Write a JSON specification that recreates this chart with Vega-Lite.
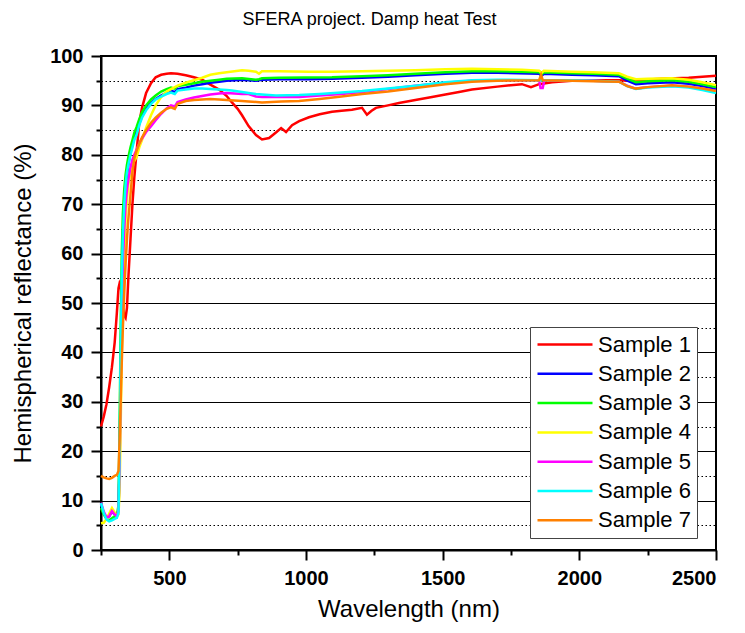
{
"$schema":"https://vega.github.io/schema/vega-lite/v6.json",
"width":615,"height":494,
"autosize":{"type":"none"},
"padding":{"left":101,"top":56,"right":29,"bottom":83},
"title":{"text":"SFERA project. Damp heat Test","fontSize":18,"fontWeight":"normal","font":"Liberation Sans","color":"#000","offset":17,"dx":-39},
"config":{"view":{"stroke":"#000","strokeWidth":2},"font":"Liberation Sans"},
"datasets":{"d":[
{"s":"Sample 1","x":250,"y":25},{"s":"Sample 1","x":260,"y":27},{"s":"Sample 1","x":270,"y":29.5},{"s":"Sample 1","x":280,"y":33},{"s":"Sample 1","x":290,"y":37},{"s":"Sample 1","x":300,"y":42},{"s":"Sample 1","x":308,"y":48},{"s":"Sample 1","x":314,"y":53},{"s":"Sample 1","x":318,"y":54},{"s":"Sample 1","x":322,"y":53.5},{"s":"Sample 1","x":326,"y":51.5},{"s":"Sample 1","x":330,"y":49},{"s":"Sample 1","x":335,"y":47.5},{"s":"Sample 1","x":340,"y":47},{"s":"Sample 1","x":345,"y":49},{"s":"Sample 1","x":350,"y":55},{"s":"Sample 1","x":358,"y":63},{"s":"Sample 1","x":365,"y":70},{"s":"Sample 1","x":372,"y":75.5},{"s":"Sample 1","x":380,"y":80.5},{"s":"Sample 1","x":390,"y":86.5},{"s":"Sample 1","x":400,"y":89.5},{"s":"Sample 1","x":415,"y":92.5},{"s":"Sample 1","x":433,"y":94.5},{"s":"Sample 1","x":450,"y":95.7},{"s":"Sample 1","x":470,"y":96.2},{"s":"Sample 1","x":490,"y":96.4},{"s":"Sample 1","x":506,"y":96.5},{"s":"Sample 1","x":530,"y":96.4},{"s":"Sample 1","x":560,"y":96.1},{"s":"Sample 1","x":590,"y":95.7},{"s":"Sample 1","x":620,"y":95.2},{"s":"Sample 1","x":650,"y":94.2},{"s":"Sample 1","x":682,"y":93.2},{"s":"Sample 1","x":710,"y":91.9},{"s":"Sample 1","x":729,"y":90.6},{"s":"Sample 1","x":750,"y":89.3},{"s":"Sample 1","x":766,"y":88},{"s":"Sample 1","x":790,"y":85.8},{"s":"Sample 1","x":817,"y":84},{"s":"Sample 1","x":839,"y":83.1},{"s":"Sample 1","x":865,"y":83.4},{"s":"Sample 1","x":890,"y":84.5},{"s":"Sample 1","x":909,"y":85.4},{"s":"Sample 1","x":927,"y":84.6},{"s":"Sample 1","x":949,"y":86},{"s":"Sample 1","x":975,"y":86.8},{"s":"Sample 1","x":1011,"y":87.6},{"s":"Sample 1","x":1050,"y":88.2},{"s":"Sample 1","x":1095,"y":88.7},{"s":"Sample 1","x":1130,"y":88.9},{"s":"Sample 1","x":1168,"y":89.1},{"s":"Sample 1","x":1205,"y":89.5},{"s":"Sample 1","x":1223,"y":88.1},{"s":"Sample 1","x":1240,"y":88.9},{"s":"Sample 1","x":1256,"y":89.5},{"s":"Sample 1","x":1300,"y":90},{"s":"Sample 1","x":1340,"y":90.5},{"s":"Sample 1","x":1400,"y":91.1},{"s":"Sample 1","x":1461,"y":91.7},{"s":"Sample 1","x":1510,"y":92.2},{"s":"Sample 1","x":1560,"y":92.7},{"s":"Sample 1","x":1607,"y":93.2},{"s":"Sample 1","x":1700,"y":93.8},{"s":"Sample 1","x":1790,"y":94.3},{"s":"Sample 1","x":1823,"y":93.7},{"s":"Sample 1","x":1853,"y":94.3},{"s":"Sample 1","x":1900,"y":94.7},{"s":"Sample 1","x":1973,"y":95},{"s":"Sample 1","x":2050,"y":95.1},{"s":"Sample 1","x":2145,"y":95.1},{"s":"Sample 1","x":2175,"y":95},{"s":"Sample 1","x":2207,"y":95.1},{"s":"Sample 1","x":2300,"y":95.4},{"s":"Sample 1","x":2400,"y":95.6},{"s":"Sample 1","x":2500,"y":96},
{"s":"Sample 2","x":250,"y":9.3},{"s":"Sample 2","x":260,"y":7.5},{"s":"Sample 2","x":270,"y":6.5},{"s":"Sample 2","x":280,"y":6.8},{"s":"Sample 2","x":290,"y":7.8},{"s":"Sample 2","x":300,"y":7.2},{"s":"Sample 2","x":308,"y":6.8},{"s":"Sample 2","x":314,"y":8},{"s":"Sample 2","x":318,"y":18},{"s":"Sample 2","x":322,"y":36},{"s":"Sample 2","x":326,"y":52},{"s":"Sample 2","x":330,"y":62},{"s":"Sample 2","x":335,"y":69},{"s":"Sample 2","x":340,"y":73},{"s":"Sample 2","x":345,"y":76},{"s":"Sample 2","x":350,"y":78},{"s":"Sample 2","x":358,"y":80.5},{"s":"Sample 2","x":365,"y":82},{"s":"Sample 2","x":372,"y":83.5},{"s":"Sample 2","x":380,"y":84.8},{"s":"Sample 2","x":390,"y":86.3},{"s":"Sample 2","x":400,"y":87.8},{"s":"Sample 2","x":415,"y":89.3},{"s":"Sample 2","x":433,"y":90.5},{"s":"Sample 2","x":450,"y":91.3},{"s":"Sample 2","x":470,"y":92},{"s":"Sample 2","x":490,"y":92.6},{"s":"Sample 2","x":506,"y":93},{"s":"Sample 2","x":520,"y":92.7},{"s":"Sample 2","x":530,"y":93.3},{"s":"Sample 2","x":560,"y":93.6},{"s":"Sample 2","x":590,"y":94},{"s":"Sample 2","x":620,"y":94.3},{"s":"Sample 2","x":650,"y":94.6},{"s":"Sample 2","x":682,"y":94.8},{"s":"Sample 2","x":710,"y":95},{"s":"Sample 2","x":766,"y":95.2},{"s":"Sample 2","x":817,"y":95},{"s":"Sample 2","x":828,"y":95.1},{"s":"Sample 2","x":839,"y":95.2},{"s":"Sample 2","x":900,"y":95.3},{"s":"Sample 2","x":1011,"y":95.3},{"s":"Sample 2","x":1095,"y":95.4},{"s":"Sample 2","x":1205,"y":95.6},{"s":"Sample 2","x":1300,"y":95.8},{"s":"Sample 2","x":1400,"y":96.1},{"s":"Sample 2","x":1510,"y":96.4},{"s":"Sample 2","x":1607,"y":96.6},{"s":"Sample 2","x":1700,"y":96.6},{"s":"Sample 2","x":1853,"y":96.4},{"s":"Sample 2","x":1862,"y":96},{"s":"Sample 2","x":1870,"y":96.4},{"s":"Sample 2","x":1973,"y":96.2},{"s":"Sample 2","x":2050,"y":96.1},{"s":"Sample 2","x":2145,"y":95.9},{"s":"Sample 2","x":2175,"y":95},{"s":"Sample 2","x":2207,"y":94.3},{"s":"Sample 2","x":2250,"y":94.5},{"s":"Sample 2","x":2339,"y":94.7},{"s":"Sample 2","x":2400,"y":94.4},{"s":"Sample 2","x":2450,"y":93.9},{"s":"Sample 2","x":2500,"y":93.3},
{"s":"Sample 3","x":250,"y":8.5},{"s":"Sample 3","x":260,"y":7.2},{"s":"Sample 3","x":270,"y":6.3},{"s":"Sample 3","x":280,"y":6},{"s":"Sample 3","x":290,"y":6.4},{"s":"Sample 3","x":300,"y":6.8},{"s":"Sample 3","x":308,"y":7},{"s":"Sample 3","x":314,"y":9},{"s":"Sample 3","x":318,"y":25},{"s":"Sample 3","x":322,"y":45},{"s":"Sample 3","x":326,"y":60},{"s":"Sample 3","x":330,"y":68},{"s":"Sample 3","x":335,"y":73},{"s":"Sample 3","x":340,"y":76},{"s":"Sample 3","x":345,"y":78},{"s":"Sample 3","x":350,"y":79.5},{"s":"Sample 3","x":358,"y":81.5},{"s":"Sample 3","x":365,"y":83},{"s":"Sample 3","x":372,"y":84.5},{"s":"Sample 3","x":380,"y":85.6},{"s":"Sample 3","x":390,"y":87.2},{"s":"Sample 3","x":400,"y":88.6},{"s":"Sample 3","x":415,"y":90},{"s":"Sample 3","x":433,"y":91.2},{"s":"Sample 3","x":450,"y":92},{"s":"Sample 3","x":470,"y":92.8},{"s":"Sample 3","x":490,"y":93.3},{"s":"Sample 3","x":506,"y":93.6},{"s":"Sample 3","x":520,"y":93.4},{"s":"Sample 3","x":530,"y":93.9},{"s":"Sample 3","x":560,"y":94.2},{"s":"Sample 3","x":590,"y":94.5},{"s":"Sample 3","x":620,"y":94.8},{"s":"Sample 3","x":650,"y":95},{"s":"Sample 3","x":682,"y":95.2},{"s":"Sample 3","x":710,"y":95.4},{"s":"Sample 3","x":766,"y":95.5},{"s":"Sample 3","x":817,"y":95.2},{"s":"Sample 3","x":828,"y":95.3},{"s":"Sample 3","x":839,"y":95.5},{"s":"Sample 3","x":900,"y":95.6},{"s":"Sample 3","x":1095,"y":95.7},{"s":"Sample 3","x":1205,"y":95.9},{"s":"Sample 3","x":1300,"y":96.1},{"s":"Sample 3","x":1400,"y":96.4},{"s":"Sample 3","x":1510,"y":96.7},{"s":"Sample 3","x":1607,"y":96.9},{"s":"Sample 3","x":1700,"y":96.9},{"s":"Sample 3","x":1853,"y":96.7},{"s":"Sample 3","x":1862,"y":96.3},{"s":"Sample 3","x":1870,"y":96.7},{"s":"Sample 3","x":1973,"y":96.5},{"s":"Sample 3","x":2050,"y":96.4},{"s":"Sample 3","x":2145,"y":96.2},{"s":"Sample 3","x":2175,"y":95.4},{"s":"Sample 3","x":2207,"y":94.7},{"s":"Sample 3","x":2250,"y":94.9},{"s":"Sample 3","x":2339,"y":95.1},{"s":"Sample 3","x":2400,"y":94.8},{"s":"Sample 3","x":2450,"y":94.3},{"s":"Sample 3","x":2500,"y":93.7},
{"s":"Sample 4","x":250,"y":5.4},{"s":"Sample 4","x":260,"y":5.5},{"s":"Sample 4","x":270,"y":6.3},{"s":"Sample 4","x":280,"y":7.4},{"s":"Sample 4","x":290,"y":8.5},{"s":"Sample 4","x":300,"y":7.6},{"s":"Sample 4","x":308,"y":6.9},{"s":"Sample 4","x":314,"y":7.2},{"s":"Sample 4","x":318,"y":12},{"s":"Sample 4","x":322,"y":25},{"s":"Sample 4","x":326,"y":40},{"s":"Sample 4","x":330,"y":52},{"s":"Sample 4","x":335,"y":61},{"s":"Sample 4","x":340,"y":67},{"s":"Sample 4","x":345,"y":71},{"s":"Sample 4","x":350,"y":74},{"s":"Sample 4","x":358,"y":76.5},{"s":"Sample 4","x":365,"y":78},{"s":"Sample 4","x":372,"y":78.8},{"s":"Sample 4","x":380,"y":79.5},{"s":"Sample 4","x":390,"y":81.5},{"s":"Sample 4","x":400,"y":83},{"s":"Sample 4","x":415,"y":85.5},{"s":"Sample 4","x":433,"y":88},{"s":"Sample 4","x":450,"y":90},{"s":"Sample 4","x":470,"y":91.7},{"s":"Sample 4","x":490,"y":92.8},{"s":"Sample 4","x":506,"y":93.3},{"s":"Sample 4","x":530,"y":94},{"s":"Sample 4","x":560,"y":94.6},{"s":"Sample 4","x":590,"y":95.1},{"s":"Sample 4","x":620,"y":95.6},{"s":"Sample 4","x":650,"y":96.2},{"s":"Sample 4","x":682,"y":96.5},{"s":"Sample 4","x":710,"y":96.7},{"s":"Sample 4","x":766,"y":97.1},{"s":"Sample 4","x":790,"y":97},{"s":"Sample 4","x":817,"y":96.8},{"s":"Sample 4","x":828,"y":96.4},{"s":"Sample 4","x":839,"y":96.9},{"s":"Sample 4","x":900,"y":96.9},{"s":"Sample 4","x":1011,"y":96.8},{"s":"Sample 4","x":1095,"y":96.8},{"s":"Sample 4","x":1205,"y":96.9},{"s":"Sample 4","x":1300,"y":97},{"s":"Sample 4","x":1400,"y":97.1},{"s":"Sample 4","x":1510,"y":97.3},{"s":"Sample 4","x":1607,"y":97.4},{"s":"Sample 4","x":1700,"y":97.3},{"s":"Sample 4","x":1790,"y":97.2},{"s":"Sample 4","x":1853,"y":97},{"s":"Sample 4","x":1862,"y":96.6},{"s":"Sample 4","x":1870,"y":97},{"s":"Sample 4","x":1973,"y":96.8},{"s":"Sample 4","x":2050,"y":96.7},{"s":"Sample 4","x":2145,"y":96.5},{"s":"Sample 4","x":2175,"y":95.8},{"s":"Sample 4","x":2207,"y":95.3},{"s":"Sample 4","x":2250,"y":95.4},{"s":"Sample 4","x":2339,"y":95.5},{"s":"Sample 4","x":2400,"y":95.2},{"s":"Sample 4","x":2450,"y":94.7},{"s":"Sample 4","x":2500,"y":94.1},
{"s":"Sample 5","x":250,"y":9.6},{"s":"Sample 5","x":260,"y":7.8},{"s":"Sample 5","x":270,"y":6.6},{"s":"Sample 5","x":280,"y":6.8},{"s":"Sample 5","x":290,"y":7.9},{"s":"Sample 5","x":300,"y":7.2},{"s":"Sample 5","x":308,"y":6.8},{"s":"Sample 5","x":314,"y":8},{"s":"Sample 5","x":318,"y":17},{"s":"Sample 5","x":322,"y":34},{"s":"Sample 5","x":326,"y":48},{"s":"Sample 5","x":330,"y":58},{"s":"Sample 5","x":335,"y":65},{"s":"Sample 5","x":340,"y":70},{"s":"Sample 5","x":345,"y":73},{"s":"Sample 5","x":350,"y":75},{"s":"Sample 5","x":358,"y":77.5},{"s":"Sample 5","x":365,"y":79},{"s":"Sample 5","x":372,"y":80},{"s":"Sample 5","x":380,"y":81},{"s":"Sample 5","x":390,"y":82.3},{"s":"Sample 5","x":400,"y":83.3},{"s":"Sample 5","x":415,"y":84.6},{"s":"Sample 5","x":433,"y":85.8},{"s":"Sample 5","x":450,"y":87},{"s":"Sample 5","x":470,"y":88.3},{"s":"Sample 5","x":490,"y":89.4},{"s":"Sample 5","x":506,"y":90},{"s":"Sample 5","x":520,"y":89.8},{"s":"Sample 5","x":530,"y":90.7},{"s":"Sample 5","x":560,"y":91.2},{"s":"Sample 5","x":590,"y":91.6},{"s":"Sample 5","x":620,"y":91.9},{"s":"Sample 5","x":650,"y":92.2},{"s":"Sample 5","x":682,"y":92.4},{"s":"Sample 5","x":710,"y":92.5},{"s":"Sample 5","x":766,"y":92.3},{"s":"Sample 5","x":790,"y":92.3},{"s":"Sample 5","x":817,"y":91.8},{"s":"Sample 5","x":839,"y":91.7},{"s":"Sample 5","x":975,"y":91.7},{"s":"Sample 5","x":1050,"y":92},{"s":"Sample 5","x":1130,"y":92.3},{"s":"Sample 5","x":1205,"y":92.7},{"s":"Sample 5","x":1300,"y":93.3},{"s":"Sample 5","x":1400,"y":94},{"s":"Sample 5","x":1510,"y":94.6},{"s":"Sample 5","x":1607,"y":95},{"s":"Sample 5","x":1700,"y":95.1},{"s":"Sample 5","x":1853,"y":95.1},{"s":"Sample 5","x":1858,"y":93.5},{"s":"Sample 5","x":1866,"y":93.5},{"s":"Sample 5","x":1872,"y":95.1},{"s":"Sample 5","x":1973,"y":95.1},{"s":"Sample 5","x":2050,"y":95},{"s":"Sample 5","x":2145,"y":94.8},{"s":"Sample 5","x":2175,"y":94},{"s":"Sample 5","x":2207,"y":93.4},{"s":"Sample 5","x":2250,"y":93.7},{"s":"Sample 5","x":2339,"y":94},{"s":"Sample 5","x":2400,"y":93.8},{"s":"Sample 5","x":2450,"y":93.4},{"s":"Sample 5","x":2500,"y":92.9},
{"s":"Sample 6","x":250,"y":9.5},{"s":"Sample 6","x":260,"y":7.5},{"s":"Sample 6","x":270,"y":6.2},{"s":"Sample 6","x":280,"y":5.8},{"s":"Sample 6","x":290,"y":6},{"s":"Sample 6","x":300,"y":6.3},{"s":"Sample 6","x":308,"y":6.5},{"s":"Sample 6","x":314,"y":7.5},{"s":"Sample 6","x":318,"y":20},{"s":"Sample 6","x":322,"y":40},{"s":"Sample 6","x":326,"y":55},{"s":"Sample 6","x":330,"y":64},{"s":"Sample 6","x":335,"y":70},{"s":"Sample 6","x":340,"y":74},{"s":"Sample 6","x":345,"y":76.5},{"s":"Sample 6","x":350,"y":78},{"s":"Sample 6","x":358,"y":80},{"s":"Sample 6","x":365,"y":81.5},{"s":"Sample 6","x":372,"y":83},{"s":"Sample 6","x":380,"y":84},{"s":"Sample 6","x":390,"y":86},{"s":"Sample 6","x":400,"y":87.5},{"s":"Sample 6","x":415,"y":89},{"s":"Sample 6","x":433,"y":90.3},{"s":"Sample 6","x":450,"y":91.2},{"s":"Sample 6","x":470,"y":91.8},{"s":"Sample 6","x":490,"y":92.3},{"s":"Sample 6","x":506,"y":92.6},{"s":"Sample 6","x":520,"y":92.3},{"s":"Sample 6","x":530,"y":93},{"s":"Sample 6","x":560,"y":93.2},{"s":"Sample 6","x":590,"y":93.4},{"s":"Sample 6","x":620,"y":93.4},{"s":"Sample 6","x":650,"y":93.3},{"s":"Sample 6","x":682,"y":93.2},{"s":"Sample 6","x":710,"y":93.1},{"s":"Sample 6","x":729,"y":93},{"s":"Sample 6","x":766,"y":92.7},{"s":"Sample 6","x":790,"y":92.5},{"s":"Sample 6","x":817,"y":92.3},{"s":"Sample 6","x":839,"y":92.2},{"s":"Sample 6","x":890,"y":92},{"s":"Sample 6","x":975,"y":92.1},{"s":"Sample 6","x":1050,"y":92.3},{"s":"Sample 6","x":1130,"y":92.6},{"s":"Sample 6","x":1205,"y":92.9},{"s":"Sample 6","x":1300,"y":93.4},{"s":"Sample 6","x":1400,"y":94},{"s":"Sample 6","x":1510,"y":94.7},{"s":"Sample 6","x":1607,"y":95.1},{"s":"Sample 6","x":1700,"y":95.2},{"s":"Sample 6","x":1853,"y":95.1},{"s":"Sample 6","x":1973,"y":95.1},{"s":"Sample 6","x":2050,"y":95},{"s":"Sample 6","x":2145,"y":94.8},{"s":"Sample 6","x":2175,"y":93.9},{"s":"Sample 6","x":2207,"y":93.3},{"s":"Sample 6","x":2250,"y":93.6},{"s":"Sample 6","x":2339,"y":93.9},{"s":"Sample 6","x":2400,"y":93.6},{"s":"Sample 6","x":2450,"y":93.1},{"s":"Sample 6","x":2500,"y":92.5},
{"s":"Sample 7","x":250,"y":15},{"s":"Sample 7","x":260,"y":14.7},{"s":"Sample 7","x":270,"y":14.5},{"s":"Sample 7","x":280,"y":14.4},{"s":"Sample 7","x":290,"y":14.6},{"s":"Sample 7","x":300,"y":15},{"s":"Sample 7","x":308,"y":15.2},{"s":"Sample 7","x":314,"y":16},{"s":"Sample 7","x":318,"y":22},{"s":"Sample 7","x":322,"y":30},{"s":"Sample 7","x":326,"y":38},{"s":"Sample 7","x":330,"y":45},{"s":"Sample 7","x":335,"y":52},{"s":"Sample 7","x":340,"y":58},{"s":"Sample 7","x":345,"y":63},{"s":"Sample 7","x":350,"y":67},{"s":"Sample 7","x":358,"y":72},{"s":"Sample 7","x":365,"y":76.5},{"s":"Sample 7","x":372,"y":79.3},{"s":"Sample 7","x":380,"y":80.8},{"s":"Sample 7","x":390,"y":82.3},{"s":"Sample 7","x":400,"y":83.5},{"s":"Sample 7","x":415,"y":85},{"s":"Sample 7","x":433,"y":86.5},{"s":"Sample 7","x":450,"y":87.5},{"s":"Sample 7","x":470,"y":88.5},{"s":"Sample 7","x":490,"y":89.3},{"s":"Sample 7","x":506,"y":89.6},{"s":"Sample 7","x":520,"y":89.3},{"s":"Sample 7","x":530,"y":90.3},{"s":"Sample 7","x":560,"y":90.9},{"s":"Sample 7","x":590,"y":91.1},{"s":"Sample 7","x":620,"y":91.2},{"s":"Sample 7","x":650,"y":91.3},{"s":"Sample 7","x":682,"y":91.2},{"s":"Sample 7","x":710,"y":91.1},{"s":"Sample 7","x":766,"y":90.9},{"s":"Sample 7","x":790,"y":90.8},{"s":"Sample 7","x":839,"y":90.6},{"s":"Sample 7","x":909,"y":90.8},{"s":"Sample 7","x":975,"y":90.9},{"s":"Sample 7","x":1050,"y":91.3},{"s":"Sample 7","x":1130,"y":91.8},{"s":"Sample 7","x":1205,"y":92.3},{"s":"Sample 7","x":1300,"y":92.8},{"s":"Sample 7","x":1400,"y":93.5},{"s":"Sample 7","x":1510,"y":94.3},{"s":"Sample 7","x":1607,"y":94.8},{"s":"Sample 7","x":1700,"y":95},{"s":"Sample 7","x":1853,"y":95.1},{"s":"Sample 7","x":1860,"y":96.2},{"s":"Sample 7","x":1866,"y":95.1},{"s":"Sample 7","x":1973,"y":95},{"s":"Sample 7","x":2050,"y":94.9},{"s":"Sample 7","x":2145,"y":94.8},{"s":"Sample 7","x":2175,"y":93.9},{"s":"Sample 7","x":2207,"y":93.4},{"s":"Sample 7","x":2250,"y":93.7},{"s":"Sample 7","x":2339,"y":94.1},{"s":"Sample 7","x":2400,"y":93.8},{"s":"Sample 7","x":2450,"y":93.4},{"s":"Sample 7","x":2500,"y":92.9}
]},
"data":{"name":"d"},
"layer":[
{"mark":{"type":"line","opacity":0},
 "encoding":{
  "x":{"field":"x","type":"quantitative","scale":{"domain":[250,2500],"nice":false,"zero":false},
       "axis":{"orient":"bottom","values":[250,750,1250,1750,2250],"grid":false,"labels":false,"domain":false,"title":null,"tickSize":5,"tickWidth":2,"tickColor":"#000"}},
  "y":{"field":"y","type":"quantitative","scale":{"domain":[0,100],"nice":false},
       "axis":{"orient":"left","values":[5,15,25,35,45,55,65,75,85,95],"grid":true,"gridColor":"#000","gridWidth":1,"gridDash":[1.5,2.5],"labels":false,"domain":false,"title":null,"tickSize":5,"tickWidth":2,"tickColor":"#000"}},
  "detail":{"field":"s","type":"nominal"}
 }},
{"mark":{"type":"line","strokeWidth":2.5},
 "encoding":{
  "x":{"field":"x","type":"quantitative","scale":{"domain":[250,2500],"nice":false,"zero":false},
       "axis":{"orient":"bottom","values":[500,1000,1500,2000,2500],"format":"d","grid":false,"tickSize":10,"tickWidth":2,"tickColor":"#000","domainColor":"#000","domainWidth":2,"labelFontSize":20,"labelFontWeight":"bold","labelColor":"#000","labelFont":"Liberation Sans","labelPadding":8,"title":"Wavelength (nm)","titleFontSize":24,"titleFontWeight":"normal","titleColor":"#000","titleFont":"Liberation Sans","titlePadding":9}},
  "y":{"field":"y","type":"quantitative","scale":{"domain":[0,100],"nice":false},
       "axis":{"orient":"left","values":[0,10,20,30,40,50,60,70,80,90,100],"format":"d","grid":true,"gridColor":"#000","gridWidth":1,"tickSize":10,"tickWidth":2,"tickColor":"#000","domainColor":"#000","domainWidth":2,"labelFontSize":20,"labelFontWeight":"bold","labelColor":"#000","labelFont":"Liberation Sans","labelPadding":8,"title":"Hemispherical reflectance (%)","titleFontSize":24,"titleFontWeight":"normal","titleColor":"#000","titleFont":"Liberation Sans","titlePadding":14}},
  "color":{"field":"s","type":"nominal",
    "scale":{"domain":["Sample 1","Sample 2","Sample 3","Sample 4","Sample 5","Sample 6","Sample 7"],"range":["#FF0000","#0000FF","#00FF00","#FFFF00","#FF00FF","#00FFFF","#FF8000"]},
    "legend":{"orient":"none","legendX":429,"legendY":271,"title":null,"symbolType":"M-1,0H4.5","symbolSize":400,"symbolStrokeWidth":2.5,"labelFontSize":22,"labelFont":"Liberation Sans","labelColor":"#000","labelOffset":39,"rowPadding":6.3,"padding":6,"strokeColor":"#444","fillColor":"#fff","labelLimit":0}}
 }}
],
"resolve":{"axis":{"x":"independent","y":"independent"}}
}
